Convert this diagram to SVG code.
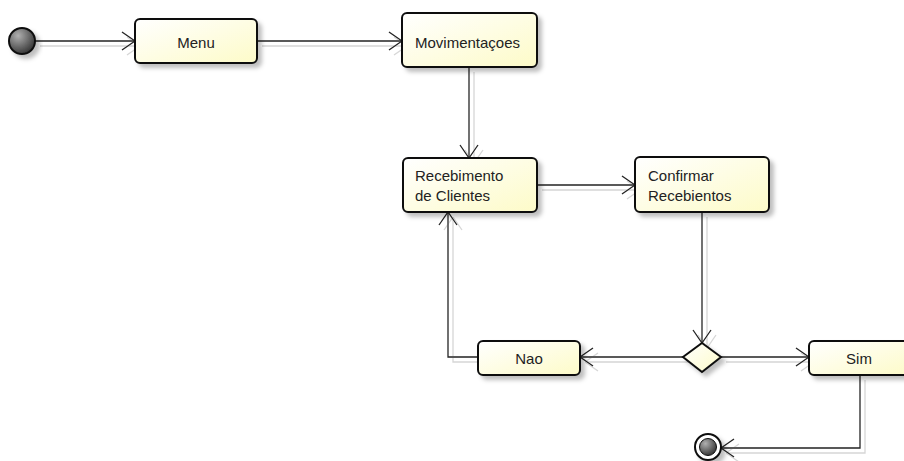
<svg xmlns="http://www.w3.org/2000/svg" width="904" height="461" viewBox="0 0 904 461">
<defs>
<linearGradient id="boxfill" x1="0" y1="0" x2="1" y2="1">
<stop offset="0" stop-color="#ffffff"/>
<stop offset="1" stop-color="#fdfbc8"/>
</linearGradient>
<radialGradient id="ballfill" cx="0.35" cy="0.3" r="0.8">
<stop offset="0" stop-color="#b0b0b0"/>
<stop offset="1" stop-color="#2a2a2a"/>
</radialGradient>
<filter id="shadow" x="-20%" y="-20%" width="150%" height="160%">
<feDropShadow dx="4" dy="4" stdDeviation="2" flood-color="#000" flood-opacity="0.25"/>
</filter>
<filter id="lineshadow" x="-10%" y="-10%" width="130%" height="130%">
<feDropShadow dx="5" dy="5" stdDeviation="0.6" flood-color="#888" flood-opacity="0.35"/>
</filter>
<marker id="arrow" viewBox="0 0 14 20" refX="14" refY="10" markerWidth="14" markerHeight="20" markerUnits="userSpaceOnUse" orient="auto">
<path d="M1,1 L14,10 L1,19" fill="none" stroke="#222" stroke-width="1.3"/>
</marker>
</defs>
<style>
.box{fill:url(#boxfill);stroke:#111;stroke-width:2;filter:url(#shadow);}
.lbl{font-family:"Liberation Sans",Arial,sans-serif;font-size:15px;fill:#222;}
.c{text-anchor:middle;}
.conn{fill:none;stroke:#222;stroke-width:1.3;marker-end:url(#arrow);}
</style>
<rect width="904" height="461" fill="#fff"/>
<g id="connectors" filter="url(#lineshadow)">
<path class="conn" d="M35,41 L135,41"/>
<path class="conn" d="M257,41 L402,41"/>
<path class="conn" d="M469,67 L469,158"/>
<path class="conn" d="M537,185 L635,185"/>
<path class="conn" d="M702,212 L702,343"/>
<path class="conn" d="M683,357 L580,357"/>
<path class="conn" d="M721,357 L809,357"/>
<path class="conn" d="M478,357 L448,357 L448,212"/>
<path class="conn" d="M860,375 L860,448 L721,448"/>
</g>
<g id="start">
<circle cx="22" cy="41" r="13" fill="url(#ballfill)" stroke="#111" stroke-width="2" filter="url(#shadow)"/>
</g>
<g id="menu">
<rect class="box" x="135" y="19" width="122" height="44" rx="5"/>
<text class="lbl c" x="196" y="48">Menu</text>
</g>
<g id="movimentacoes">
<rect class="box" x="402" y="13" width="135" height="54" rx="5"/>
<text class="lbl" x="415" y="48">Movimentaçoes</text>
</g>
<g id="recebimento">
<rect class="box" x="403" y="158" width="134" height="54" rx="5"/>
<text class="lbl" x="415" y="181">Recebimento</text>
<text class="lbl" x="415" y="201">de Clientes</text>
</g>
<g id="confirmar">
<rect class="box" x="635" y="157" width="134" height="55" rx="5"/>
<text class="lbl" x="648" y="181">Confirmar</text>
<text class="lbl" x="648" y="201">Recebientos</text>
</g>
<g id="decision">
<polygon class="box" points="702,343 721,357 702,372 683,357"/>
</g>
<g id="nao">
<rect class="box" x="478" y="341" width="102" height="34" rx="5"/>
<text class="lbl c" x="529" y="364">Nao</text>
</g>
<g id="sim">
<rect class="box" x="809" y="341" width="102" height="34" rx="5"/>
<text class="lbl c" x="859" y="364">Sim</text>
</g>
<g id="end">
<circle cx="708" cy="447" r="13" fill="#fff" stroke="#111" stroke-width="2" filter="url(#shadow)"/>
<circle cx="708" cy="447" r="8.5" fill="url(#ballfill)" stroke="#111" stroke-width="1"/>
</g>
</svg>
